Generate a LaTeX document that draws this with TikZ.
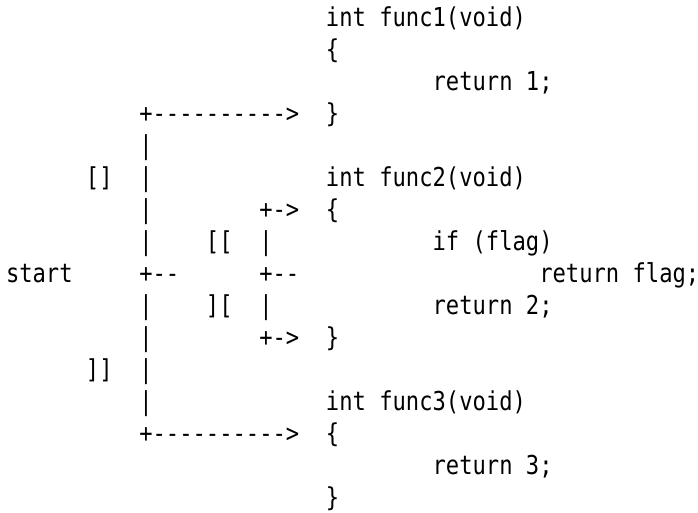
\documentclass[tikz,border=0pt]{standalone}
\usepackage{fontspec}
\setmonofont[FakeStretch=0.85]{DejaVu Sans Mono}
\begin{document}
\begin{tikzpicture}[x=1pt,y=-1pt,
  txt/.style={anchor=base west,inner sep=0pt,outer sep=0pt,
    font=\ttfamily\fontsize{26.05}{30}\selectfont}]
\useasboundingbox (0,0) rectangle (698,513);
\newcommand\putat[4]{\node[txt] (#1) at ({6+13.333*#2},{26.5+32.0*#3}) {#4};}
% code column
\putat{f1}{24}{0}{int func1(void)}
\putat{f1o}{24}{1}{\{}
\putat{f1r}{32}{2}{return 1;}
\putat{f1c}{24}{3}{\}}
\putat{f2}{24}{5}{int func2(void)}
\putat{f2o}{24}{6}{\{}
\putat{f2if}{32}{7}{if (flag)}
\putat{f2rf}{40}{8}{return flag;}
\putat{f2r}{32}{9}{return 2;}
\putat{f2c}{24}{10}{\}}
\putat{f3}{24}{12}{int func3(void)}
\putat{f3o}{24}{13}{\{}
\putat{f3r}{32}{14}{return 3;}
\putat{f3c}{24}{15}{\}}
% ascii art
\putat{a3}{10}{3}{+---------->}
\putat{a4}{10}{4}{|}
\putat{b5}{6}{5}{[]}
\putat{a5}{10}{5}{|}
\putat{a6}{10}{6}{|}
\putat{c6}{19}{6}{+->}
\putat{a7}{10}{7}{|}
\putat{d7}{15}{7}{[[}
\putat{c7}{19}{7}{|}
\putat{start}{0}{8}{start}
\putat{a8}{10}{8}{+--}
\putat{c8}{19}{8}{+--}
\putat{a9}{10}{9}{|}
\putat{d9}{15}{9}{][}
\putat{c9}{19}{9}{|}
\putat{a10}{10}{10}{|}
\putat{c10}{19}{10}{+->}
\putat{b11}{6}{11}{]]}
\putat{a11}{10}{11}{|}
\putat{a12}{10}{12}{|}
\putat{a13}{10}{13}{+---------->}
\end{tikzpicture}
\end{document}
